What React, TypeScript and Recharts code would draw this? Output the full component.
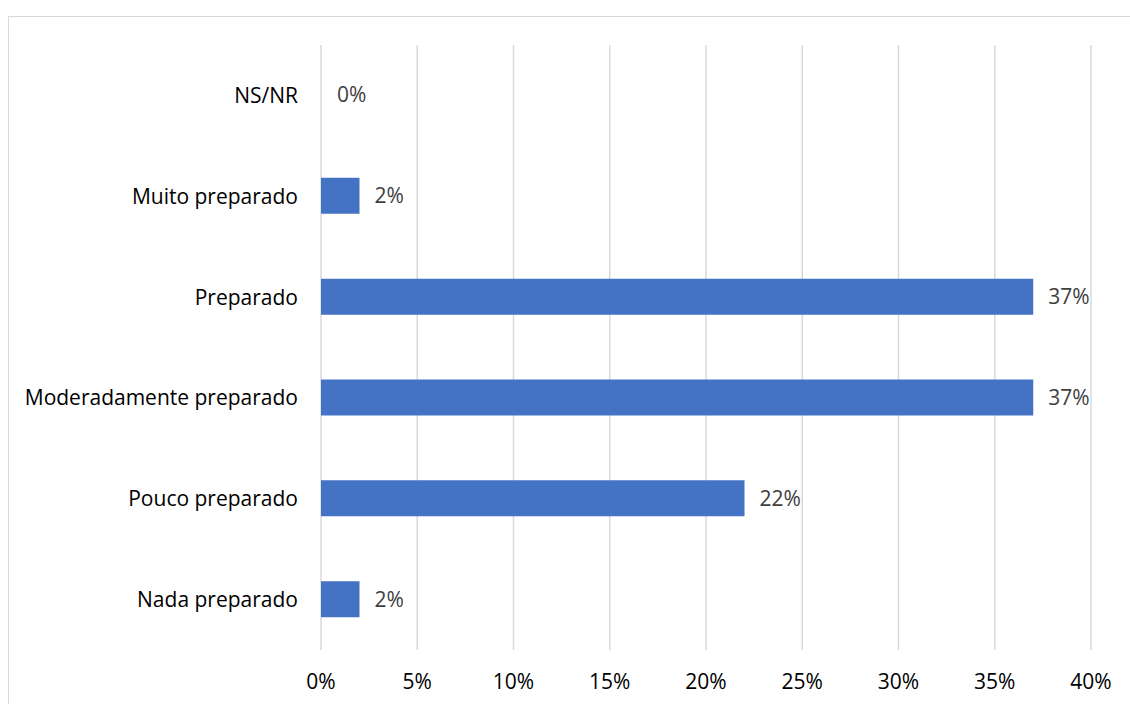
import { BarChart, Bar, XAxis, YAxis, CartesianGrid, LabelList, Cell } from 'recharts';

const categories = [
  'NS/NR',
  'Muito preparado',
  'Preparado',
  'Moderadamente preparado',
  'Pouco preparado',
  'Nada preparado',
];
const shares = [0, 2, 37, 37, 22, 2];
const xTicks = [0, 5, 10, 15, 20, 25, 30, 35, 40];

const data = categories.map((name, i) => ({ name, value: shares[i] }));

const font = '"Open Sans", sans-serif';
const fontSize = 21;

const App = () => {
  return (
    <div style={{ position: 'fixed', left: 0, top: 0, width: 1130, height: 704, background: '#fff', overflow: 'hidden', fontFamily: font }}>
      <div
        style={{
          position: 'absolute',
          left: 8,
          top: 16,
          width: 1200,
          height: 800,
          border: '1.5px solid #d9d9d9',
          boxSizing: 'border-box',
        }}
      />
      <div style={{ position: 'absolute', left: 0, top: 0 }}>
        <BarChart
          width={1130}
          height={704}
          data={data}
          layout="vertical"
          margin={{ top: 45, right: 39, bottom: 0, left: 0 }}
          barSize={36}
        >
          <CartesianGrid horizontal={false} vertical={true} stroke="#d9d9d9" strokeWidth={1.5} />
          <XAxis
            type="number"
            domain={[0, 40]}
            ticks={xTicks}
            tickFormatter={(v: number) => `${v}%`}
            axisLine={false}
            tickLine={false}
            height={54}
            tickMargin={18}
            interval={0}
            tick={{ fill: '#000', fontSize, fontFamily: font }}
          />
          <YAxis
            type="category"
            dataKey="name"
            width={321}
            axisLine={false}
            tickLine={false}
            tickMargin={17}
            interval={0}
            tick={{ fill: '#000', fontSize, fontFamily: font }}
          />
          {/* minPointSize keeps the 0% row alive so its label is drawn; that sliver is transparent */}
          <Bar dataKey="value" fill="#4472C4" minPointSize={1} isAnimationActive={false}>
            {data.map((d) => (
              <Cell key={d.name} fill={d.value === 0 ? 'transparent' : '#4472C4'} />
            ))}
            <LabelList
              dataKey="value"
              position="right"
              offset={15}
              formatter={(v: number) => `${v}%`}
              style={{ fill: '#404040', fontSize, fontFamily: font }}
            />
          </Bar>
        </BarChart>
      </div>
    </div>
  );
};

export default App;
